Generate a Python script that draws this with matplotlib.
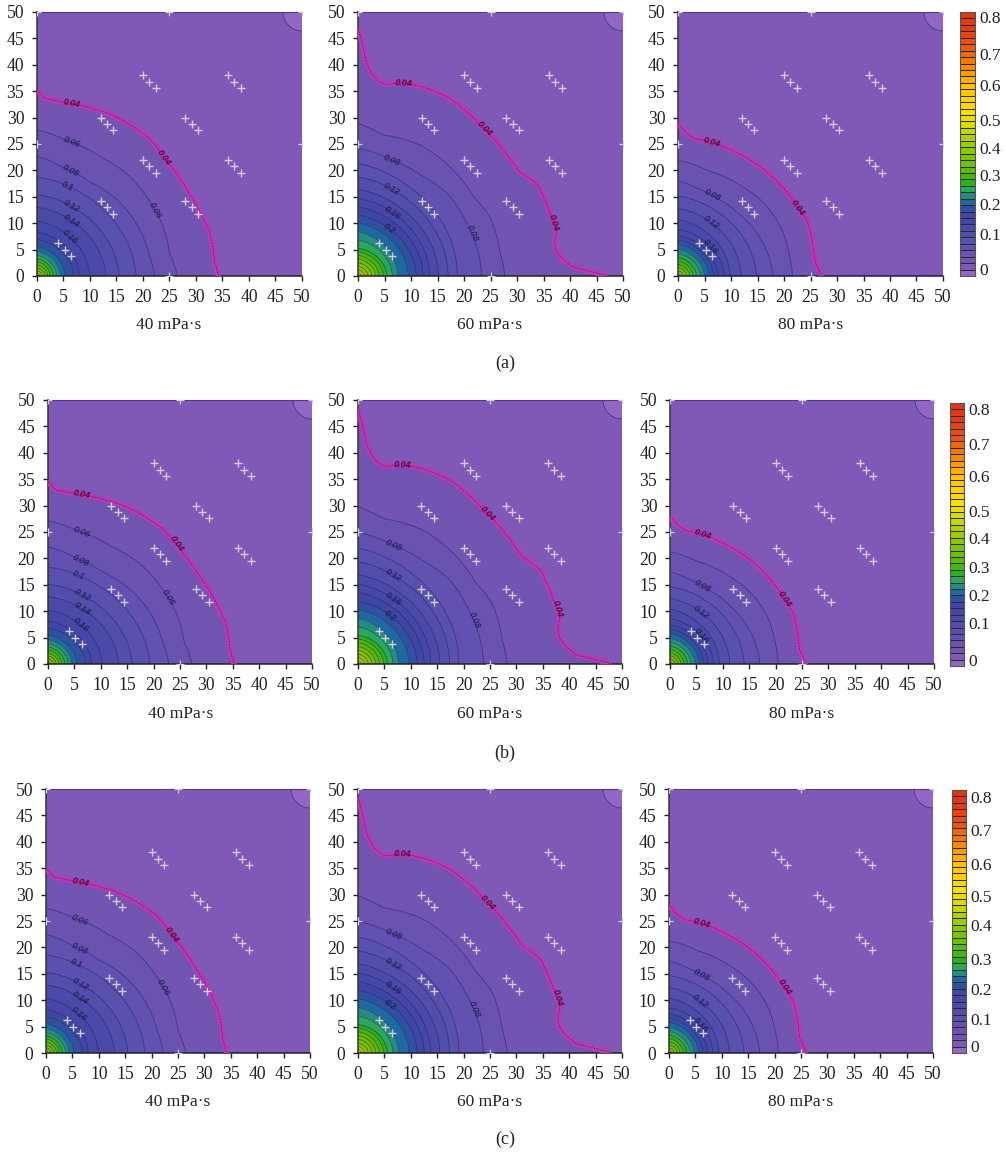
import numpy as np
import matplotlib
matplotlib.use("Agg")
import matplotlib.pyplot as plt
from matplotlib.colors import LinearSegmentedColormap, ListedColormap
from matplotlib.path import Path

plt.rcParams['font.family'] = ['Liberation Serif', 'DejaVu Serif']
W, H = 1006, 1154

# contour 0.04 / 0.06 / 0.08 polylines
c04_40_x = [34.2, 33.3, 32.8, 30.8, 28.2, 25, 20.7, 15, 9.3, 5, 1.1, 0.2, 0]
c04_40_y = [0, 3, 7.4, 11.9, 16.3, 21, 26.4, 30, 32, 32.8, 33.6, 35.2, 35.5]
c06_40_x = [26.5, 25, 23.8, 20.7, 16.9, 11.9, 5.5, 0]
c06_40_y = [0, 4.3, 9.3, 15, 19.4, 22.6, 25.7, 27.7]
c08_40_x = [22.2, 21, 19, 15, 10, 5, 0]
c08_40_y = [0, 4.5, 9.5, 14.5, 17.8, 20.5, 22.7]

c04_60_x = [48, 47.9, 41.9, 39.4, 37.5, 36.9, 37.5, 35.9, 33.7, 30.3, 27.4, 23, 17.3, 12.9, 8.5, 4.7, 2.8, 0.9, 0.4, 0]
c04_60_y = [0, 0.5, 0.8, 2.4, 4.3, 6.2, 8.7, 12.5, 17.5, 19.7, 23.8, 28.6, 33.6, 35.5, 36.6, 36.1, 37.7, 41.5, 47.8, 48]
c06_60_x = [27.7, 26.8, 24.9, 21.8, 17.3, 12.3, 4.7, 0]
c06_60_y = [0, 4.3, 11.2, 15, 20.7, 24.5, 26.7, 28.9]
c08_60_x = [23.3, 23, 21.5, 20, 17, 12, 6.4, 0]
c08_60_y = [0, 3, 8, 11, 15.5, 19, 21.9, 24.2]

c04_80_x = [27, 25.7, 25.2, 24.5, 22.6, 19.5, 15, 10, 6.4, 3, 1, 0]
c04_80_y = [0, 3, 7, 10, 13, 17, 21, 23.8, 25.4, 26, 27.5, 29]
c06_80_x = [21.6, 21, 19.5, 16.5, 11.5, 5.5, 0]
c06_80_y = [0, 4, 9, 13.5, 17.3, 20, 21.9]
c08_80_x = [17.9, 17.2, 15.3, 12, 8, 3.8, 0]
c08_80_y = [0, 3.5, 7.5, 11.3, 14.3, 16.5, 18]

# inner contours: intercepts on the x and y axes, from level 0.10 up by 0.02
inner_40_x = [18.7, 15.5, 13, 9.9, 8, 6.9, 5.3, 4.4, 3.7, 3.1, 2.5, 2, 1.5, 1, 0.5]
inner_40_y = [18.7, 15.4, 13, 10.4, 8.3, 6.9, 5.6, 4.7, 3.9, 3.3, 2.7, 2.1, 1.5, 1, 0.5]
inner_60_x = [18.7, 17, 15.2, 13.5, 12.3, 11, 9.5, 7.5, 6.5, 5.5, 4.8, 4, 3.3, 2.6, 1.9, 1.2, 0.6]
inner_60_y = [21.3, 18.8, 16.4, 14.7, 13.1, 11.5, 10, 8.4, 6.8, 5.2, 4.6, 3.9, 3.2, 2.5, 1.8, 1.2, 0.6]
inner_80_x = [14.8, 11.9, 9.8, 8.7, 7.6, 6.7, 5.9, 5, 4.2, 3.5, 2.8, 2.2, 1.6, 1, 0.5]
inner_80_y = [15.1, 12.8, 10.7, 8.8, 7.6, 6.8, 6, 5, 4.2, 3.5, 2.8, 2.2, 1.6, 1, 0.5]
inner_dip_theta = [0, 15, 30, 45, 60, 75, 90]
inner_dip = [1, 0.98, 0.96, 0.95, 0.95, 0.97, 1]

corner_radius = [3.6, 3.6, 3.6]

# scale of each panel against its viscosity table (x, y)
scale_a = [(1.0, 1.0), (1.0, 1.0), (1.0, 1.0)]
scale_b = [(1.03, 0.98), (1.02, 1.03), (0.95, 0.97)]
scale_c = [(1.0, 0.99), (1.02, 1.03), (0.96, 0.97)]

# label anchors for contour lines
labels04_40 = [(6.5, 32.5), (24, 22.5)]
labels04_60 = [(8.5, 36.6), (36.5, 10), (24, 28)]
labels04_80 = [(6.4, 25.4), (22.6, 13)]
labels_40 = [(6.5, 25.4), (22.3, 12.5), (6.4, 20), (5.5, 16.4), (6.2, 12.5), (6, 9.6), (5.9, 7.1)]
labels_60 = [(6.4, 21.9), (21.4, 8), (6.3, 16.3), (6.3, 11.9), (5.7, 8.7)]
labels_80 = [(6.4, 15.2), (6, 9.8), (6, 5.5)]

marker_base_x = [12, 12, 20, 20, 28, 28, 36, 36, 4]
marker_base_y = [30, 14.2, 38, 22, 30, 14.2, 38, 22, 6.2]
marker_step_x = [0, 1.2, 2.4]
marker_step_y = [0, -1.2, -2.4]
edge_x = [0, 25, 50, 0, 50, 25]
edge_y = [50, 50, 50, 25, 25, 0]

tick_vals = [0, 5, 10, 15, 20, 25, 30, 35, 40, 45, 50]
visc_labels = ['40 mPa·s', '60 mPa·s', '80 mPa·s']
row_caps = ['(a)', '(b)', '(c)']

levels = np.round(np.arange(0, 0.8401, 0.02), 2)
anchor_vals = [0, .02, .04, .06, .10, .14, .18, .20, .22, .24, .26, .28, .30, .34, .38, .42, .46, .50, .54, .58, .62, .66, .70, .76, .84]
anchor_cols = ['#9366c4', '#8058b8', '#7254b3', '#6a52b1', '#5a50ae', '#4a4aa8', '#3f46a4', '#2f52a0', '#1f68a4', '#268a84', '#28a85c',
               '#2cb020', '#45b80c', '#70c000', '#8cc800', '#b0d000', '#d8dc00', '#f8e000', '#ffd000', '#ffc000', '#ff9c00', '#f47a00',
               '#e85a10', '#e23c14', '#e03018']
cm = LinearSegmentedColormap.from_list('g', [(v / 0.84, c) for v, c in zip(anchor_vals, anchor_cols)])
cell_cols = [cm(float(v) / 0.84) for v in levels[:-1]]

ticks_cb = ['0', '0.1', '0.2', '0.3', '0.4', '0.5', '0.6', '0.7', '0.8']
cb_y_a = [271, 236, 205.7, 177, 150, 122, 87, 56, 19]
cb_y_b = [662, 625, 597, 569, 540, 513, 478, 446, 411]
cb_y_c = [1048, 1021, 991, 961, 927, 898, 866, 832, 799]

# pixel layout
row_boxes = [(12, 276, [37, 358, 678], 265), (400, 664, [48, 358, 670], 264), (789, 1053, [46, 358, 669], 264)]
cb_boxes = [(960, 975, 12, 276), (950, 964, 403, 666), (952, 966, 790, 1053)]
label_centres = [[169, 490, 811], [181, 490, 802], [178, 490, 801]]
label_y = [325, 714, 1102]
cap_y = [363, 753, 1139]
tick_font = 12.7
band_half_width = 0.5

fig = plt.figure(figsize=(W / 100, H / 100), dpi=100, facecolor='white')


def box(x0, x1, top, bottom):
    return fig.add_axes([x0 / W, 1 - bottom / H, (x1 - x0) / W, (bottom - top) / H])


def smooth(a, n=13):
    pad = n // 2
    k = np.ones(n) / n
    return np.convolve(np.r_[np.full(pad, a[0]), a, np.full(pad, a[-1])], k, mode='valid')


def radius(xs, ys, th):
    xs, ys = np.asarray(xs, float), np.asarray(ys, float)
    t = np.degrees(np.arctan2(ys, xs))
    return np.interp(th, t, np.hypot(xs, ys))


def field(outer, ix, iy, sx, sy, rc):
    th = np.radians(np.linspace(0, 90, 451))
    deg = np.degrees(th)
    rad = np.concatenate([np.linspace(0, 30, 300), np.linspace(30, 75, 200)[1:]])
    rows, lev = [np.full_like(th, 95.0)], [0.02]
    for i, (xs, ys) in enumerate(outer):
        rows.append(smooth(radius(xs, ys, deg)))
        lev.append(0.04 + 0.02 * i)
    dip = np.interp(deg, inner_dip_theta, inner_dip)
    for i, (a, b) in enumerate(zip(ix, iy)):
        rows.append(np.interp(deg, [0, 90], [a, b]) * dip)
        lev.append(0.10 + 0.02 * i)
    R = np.minimum.accumulate(np.array(rows), axis=0)
    lev = np.array(lev)
    Z = np.zeros((len(rad), len(th)))
    peak = lev[-1] + 0.02
    for j in range(len(th)):
        Z[:, j] = np.interp(rad, np.r_[0, R[::-1, j]], np.r_[peak, lev[::-1]])
    X = np.outer(rad, np.cos(th)) * sx
    Y = np.outer(rad, np.sin(th)) * sy
    d = np.hypot(X - 50, Y - 50)
    Z = np.clip(np.minimum(Z, 0.02 + (d - rc) * 0.01), 0.004, None)
    return X, Y, Z


tables = [
    ([(c04_40_x, c04_40_y), (c06_40_x, c06_40_y), (c08_40_x, c08_40_y)], inner_40_x, inner_40_y, labels04_40, labels_40),
    ([(c04_60_x, c04_60_y), (c06_60_x, c06_60_y), (c08_60_x, c08_60_y)], inner_60_x, inner_60_y, labels04_60, labels_60),
    ([(c04_80_x, c04_80_y), (c06_80_x, c06_80_y), (c08_80_x, c08_80_y)], inner_80_x, inner_80_y, labels04_80, labels_80),
]
scales = [scale_a, scale_b, scale_c]


def style_labels(items):
    for t in items:
        t.set_family(['Liberation Sans'])
        t.set_style('italic')
        t.set_fontweight('bold')


def segments(path):
    v, codes = path.vertices, path.codes
    if codes is None:
        return [v]
    starts = list(np.flatnonzero(codes == Path.MOVETO)) + [len(v)]
    return [v[a:b] for a, b in zip(starts[:-1], starts[1:])]


def resample(seg, step=0.6):
    s = np.r_[0, np.cumsum(np.hypot(*np.diff(seg, axis=0).T))]
    u = np.arange(0, s[-1] + step, step)
    u[-1] = s[-1]
    return np.interp(u, s, seg[:, 0]), np.interp(u, s, seg[:, 1])


def ribbon(ax, lx, ly, hw, color):
    dx, dy = np.gradient(lx), np.gradient(ly)
    n = np.hypot(dx, dy) + 1e-9
    nx, ny = -dy / n, dx / n
    ax.fill(np.r_[lx + hw * nx, (lx - hw * nx)[::-1]], np.r_[ly + hw * ny, (ly - hw * ny)[::-1]],
            facecolor=color, edgecolor=color, linewidth=0.4, zorder=5)


for r, (top, bottom, lefts, width) in enumerate(row_boxes):
    for c, x0 in enumerate(lefts):
        ax = box(x0, x0 + width, top, bottom)
        outer, ix, iy, labs04, labs = tables[c]
        sx, sy = scales[r][c]
        X, Y, Z = field(outer, ix, iy, sx, sy, corner_radius[c])
        ax.contourf(X, Y, Z, levels=levels, colors=cell_cols, antialiased=False)
        thin = levels[(levels > 0.01) & (levels < 0.5)]
        thin = thin[thin != 0.04]
        cs = ax.contour(X, Y, Z, levels=thin, colors='#28246e', linewidths=0.55, alpha=0.65)
        c4 = ax.contour(X, Y, Z, levels=[0.04], colors='none', linewidths=0.5)
        for p in c4.get_paths():
            for seg in segments(p):
                if len(seg) < 2:
                    continue
                lx, ly = resample(seg)
                ribbon(ax, lx, ly, band_half_width, '#b53bb5')
                ax.plot(lx, ly, color='#4a2060', lw=0.4, ls='--', zorder=5.5)
        style_labels(ax.clabel(cs, manual=labs, inline=False, fmt=lambda v: f'{v:g}', fontsize=6.5, colors='#15103a'))
        style_labels(ax.clabel(c4, manual=labs04, inline=False, fmt=lambda v: f'{v:g}', fontsize=6.5, colors='#5a0a3a', zorder=7))
        mx = np.add.outer(marker_base_x, marker_step_x).ravel()
        my = np.add.outer(marker_base_y, marker_step_y).ravel()
        ax.plot(mx, my, '+', color='#d0d0d0', ms=6, mew=1.0, zorder=6)
        ax.plot(edge_x, edge_y, '+', color='#d0d0d0', ms=6, mew=0.9, zorder=6)
        ax.set_xlim(0, 50)
        ax.set_ylim(0, 50)
        ax.set_xticks(tick_vals)
        ax.set_yticks(tick_vals)
        ax.tick_params(length=3.6, width=1.0, labelsize=tick_font, pad=5.5, color='#222222', labelcolor='#222222')
        ax.spines['right'].set_visible(False)
        ax.spines['top'].set_color('#4a3a98')
        ax.spines['left'].set_color('#333333')
        ax.spines['left'].set_linewidth(1.1)
        ax.spines['bottom'].set_linewidth(1.1)
        ax.spines['bottom'].set_color('#1a1a50' if r == 0 and c == 2 else '#222222')
        fig.text(label_centres[r][c] / W, 1 - label_y[r] / H, visc_labels[c], ha='center', va='center', fontsize=12.5, color='#222222')
    fig.text(505 / W, 1 - cap_y[r] / H, row_caps[r], ha='center', va='center', fontsize=13, color='#222222')

    x0, x1, t0, b0 = cb_boxes[r]
    cax = box(x0, x1, t0, b0)
    ncell = 41
    yedges = np.arange(ncell + 1)
    cax.pcolormesh([0, 1], yedges, np.arange(ncell).reshape(-1, 1), cmap=ListedColormap(cell_cols[:ncell]),
                   edgecolors='#2a2a2a', linewidth=0.7)
    cax.set_xlim(0, 1)
    cax.set_ylim(0, ncell)
    cax.set_xticks([])
    cax.set_yticks([])
    for s in cax.spines.values():
        s.set_color('#555555')
        s.set_linewidth(0.8)
    ys = [cb_y_a, cb_y_b, cb_y_c][r]
    for lab, yy in zip(ticks_cb, ys):
        fig.text((x1 + 4) / W, 1 - yy / H, lab, ha='left', va='center', fontsize=12.5, color='#222222')

fig.savefig('out.png', dpi=100)
